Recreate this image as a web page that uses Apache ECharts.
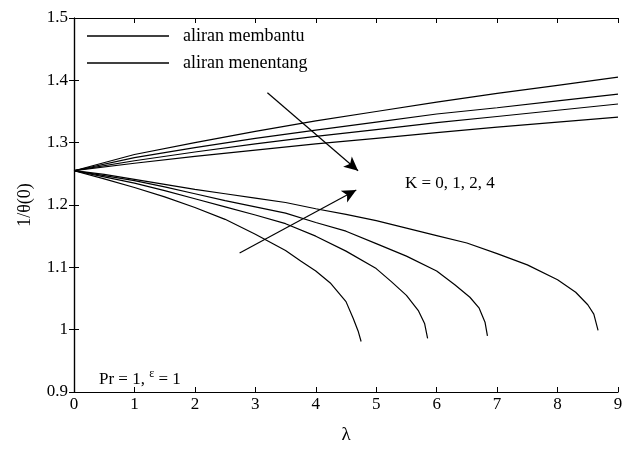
<!DOCTYPE html>
<html><head><meta charset="utf-8">
<script src="https://cdn.jsdelivr.net/npm/echarts@6/dist/echarts.min.js"></script>
<style>html,body{margin:0;padding:0;background:#fff}#c{width:627px;height:450px}</style>
</head><body><div id="c"></div>
<script>
// aliran membantu (assisting flow), K = 0, 1, 2, 4
const assistK0 = [[0,1.255],[1,1.281],[2,1.300],[3,1.318],[4,1.335],[5,1.350],[6,1.365],[7,1.379],[8,1.392],[9,1.405]];
const assistK1 = [[0,1.255],[1,1.276],[2,1.292],[3,1.307],[4,1.320],[5,1.333],[6,1.346],[7,1.356],[8,1.367],[9,1.378]];
const assistK2 = [[0,1.255],[1,1.271],[2,1.285],[3,1.298],[4,1.310],[5,1.321],[6,1.332],[7,1.342],[8,1.352],[9,1.362]];
const assistK4 = [[0,1.255],[1,1.267],[2,1.278],[3,1.288],[4,1.298],[5,1.307],[6,1.316],[7,1.325],[8,1.333],[9,1.341]];
// aliran menentang (opposing flow)
const opposeA = [[0,1.255],[0.5,1.242],[1,1.228],[1.5,1.213],[2,1.196],[2.5,1.177],[3,1.153],[3.5,1.127],[3.75,1.110],[4,1.094],[4.25,1.074],[4.5,1.045],[4.62,1.018],[4.7,0.998],[4.75,0.981]];
const opposeB = [[0,1.255],[0.5,1.245],[1,1.235],[1.5,1.223],[2,1.210],[2.5,1.197],[3,1.184],[3.5,1.170],[4,1.150],[4.5,1.126],[5,1.098],[5.25,1.077],[5.5,1.055],[5.7,1.030],[5.8,1.010],[5.85,0.986]];
const opposeC = [[0,1.255],[0.5,1.247],[1,1.239],[1.5,1.229],[2,1.218],[2.5,1.207],[3,1.197],[3.5,1.187],[4,1.172],[4.5,1.158],[5,1.138],[5.5,1.118],[6,1.094],[6.3,1.072],[6.55,1.052],[6.7,1.035],[6.8,1.012],[6.84,0.990]];
const opposeD = [[0,1.255],[0.5,1.249],[1,1.241],[1.5,1.233],[2,1.225],[2.5,1.218],[3,1.211],[3.5,1.204],[4,1.194],[4.5,1.185],[5,1.175],[5.5,1.163],[6,1.151],[6.5,1.139],[7,1.122],[7.5,1.104],[8,1.080],[8.3,1.060],[8.5,1.040],[8.6,1.025],[8.67,0.999]];
// annotation arrows (data coordinates)
const arrowDown = [[3.20,1.380],[4.70,1.255]];
const arrowUp = [[2.74,1.123],[4.67,1.224]];
const legendNames = ['aliran membantu','aliran menentang'];
const kLabel = 'K = 0, 1, 2, 4';

const FONT = "'Liberation Serif','Times New Roman',serif";
const chart = echarts.init(document.getElementById('c'));
function curve(name, data){
  return {type:'line', name, data, showSymbol:false, smooth:false,
    color:'#000', lineStyle:{color:'#000', width:1.2}, silent:true};
}
const axisBase = {axisLine:{show:true, lineStyle:{color:'#000', width:1.2}},
  axisTick:{show:true, inside:true, length:5, lineStyle:{color:'#000'}}, splitLine:{show:false}};
chart.setOption({
  animation:false,
  backgroundColor:'#fff',
  grid:{left:74, right:9, top:18, bottom:56},
  legend:{data:legendNames, orient:'vertical', left:87, top:27, padding:0, icon:'rect', itemWidth:82, itemHeight:1.5,
    itemGap:9, itemStyle:{color:'#000'}, textStyle:{fontSize:18, fontFamily:FONT, color:'#000', padding:[0,0,0,9]}},
  xAxis:[
    Object.assign({type:'value', min:0, max:9, interval:1, position:'bottom',
      axisLabel:{fontSize:17, fontFamily:FONT, color:'#000', margin:4},
      name:'λ', nameLocation:'middle', nameGap:34, nameTextStyle:{fontSize:19, fontFamily:FONT, color:'#000'}}, axisBase),
    Object.assign({type:'value', min:0, max:9, interval:1, position:'top', axisLabel:{show:false}}, axisBase)
  ],
  yAxis:[
    Object.assign({type:'value', min:0.9, max:1.5, interval:0.1, position:'left',
      axisLabel:{fontSize:17, fontFamily:FONT, color:'#000', margin:6, formatter:v=>String(+v.toFixed(1))},
      name:'1/θ(0)', nameLocation:'middle', nameGap:40, nameTextStyle:{fontSize:18, fontFamily:FONT, color:'#000'}}, axisBase),
    Object.assign({type:'value', min:0.9, max:1.5, interval:0.1, position:'right', axisLabel:{show:false}}, axisBase)
  ],
  series:[
    curve(legendNames[0], assistK0), curve(legendNames[0], assistK1), curve(legendNames[0], assistK2), curve(legendNames[0], assistK4),
    curve(legendNames[1], opposeA), curve(legendNames[1], opposeB), curve(legendNames[1], opposeC), curve(legendNames[1], opposeD),
    {type:'line', data:[], silent:true,
      markLine:{silent:true, symbol:['none','arrow'], symbolSize:[10,14], label:{show:false},
        lineStyle:{color:'#000', width:1.2, type:'solid'},
        data:[[{coord:arrowDown[0]},{coord:arrowDown[1]}],[{coord:arrowUp[0]},{coord:arrowUp[1]}]]}}
  ],
  graphic:[
    {type:'text', left:405, top:175, style:{text:kLabel, font:'17px '+FONT, fill:'#000'}},
    {type:'text', left:99, top:368, style:{text:'{a|Pr = 1, }{b|ε}{a| = 1}', font:'17px '+FONT, fill:'#000',
      rich:{a:{fontSize:17, fontFamily:FONT, lineHeight:20, verticalAlign:'bottom'}, b:{fontSize:12, fontFamily:FONT, lineHeight:20, verticalAlign:'top'}}}}
  ]
});
</script></body></html>
